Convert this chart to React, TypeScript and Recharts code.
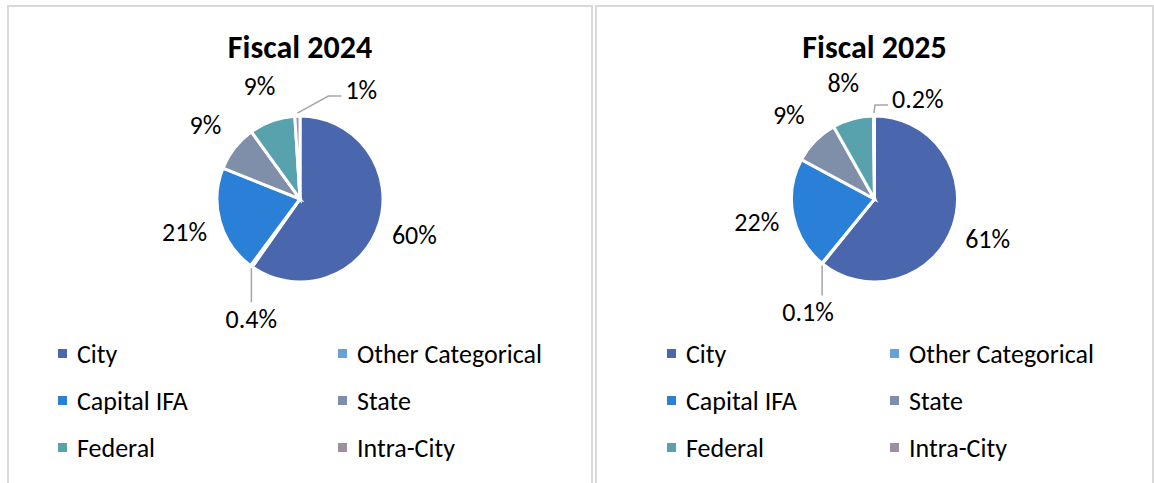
import { PieChart, Pie, Cell, Legend } from "recharts"

const categories = ["City", "Other Categorical", "Capital IFA", "State", "Federal", "Intra-City"]
const fiscal2024 = [60, 0.4, 21, 9, 9, 1]
const fiscal2025 = [61, 0.1, 22, 9, 8, 0.2]
const colors = ["#4a66ac", "#64a2d8", "#2a7fd6", "#7f8ea9", "#58a2ad", "#9e8fa0"]

const FONT = "Carlito, Calibri, Lato, sans-serif"
const RAD = Math.PI / 180

type Callout = { upDx: number; upDy: number; downLen: number; downDx: number }

function makeLabel(values: number[], callout: Callout) {
  return (props: any) => {
    const { cx, cy, midAngle, outerRadius, index } = props
    const v = values[index]
    const text = `${v}%`
    const cos = Math.cos(-midAngle * RAD)
    const sin = Math.sin(-midAngle * RAD)
    const ex = cx + outerRadius * cos
    const ey = cy + outerRadius * sin
    const textStyle = { fontFamily: FONT, fontSize: 26, fill: "#000" }

    if (v >= 2) {
      const r = outerRadius + 37
      return (
        <text x={cx + r * cos} y={cy + r * sin} textAnchor="middle" dominantBaseline="central" style={textStyle}>
          {text}
        </text>
      )
    }
    // small slices get a leader line
    if (sin > 0) {
      const y1 = ey + 2
      const y2 = y1 + callout.downLen
      return (
        <g>
          <polyline points={`${ex},${y1} ${ex},${y2}`} stroke="#a6a6a6" strokeWidth={1.5} fill="none" />
          <text x={ex + callout.downDx} y={y2 + 17} textAnchor="middle" dominantBaseline="central" style={textStyle}>
            {text}
          </text>
        </g>
      )
    }
    const y1 = ey - 3
    const x2 = ex + callout.upDx
    const y2 = y1 - callout.upDy
    const x3 = x2 + 13
    return (
      <g>
        <polyline points={`${ex},${y1} ${x2},${y2} ${x3},${y2}`} stroke="#a6a6a6" strokeWidth={1.5} fill="none" />
        <text x={x3 + 4} y={y2 - 6} textAnchor="start" dominantBaseline="central" style={textStyle}>
          {text}
        </text>
      </g>
    )
  }
}

function TwoColLegend({ payload, colWidth }: any) {
  // keep the slice order (row by row), not alphabetical
  const items = [...((payload || []) as any[])].sort(
    (a, b) => categories.indexOf(a.value) - categories.indexOf(b.value)
  )
  return (
    <div style={{ display: "grid", gridTemplateColumns: `${colWidth}px ${colWidth}px`, gridAutoRows: "47px" }}>
      {items.map((it) => (
        <div key={it.value} style={{ display: "flex", alignItems: "center" }}>
          <span style={{ width: 9, height: 9, background: it.color, marginRight: 10, flex: "none" }} />
          <span style={{ fontFamily: FONT, fontSize: 26, color: "#000", whiteSpace: "nowrap" }}>{it.value}</span>
        </div>
      ))}
    </div>
  )
}

function FiscalPanel({ title, values, left, width, legendLeft, colWidth, callout }: any) {
  const data = categories.map((name, i) => ({ name, value: values[i] }))
  const inner = width - 4
  return (
    <div
      style={{
        position: "absolute",
        left,
        top: 5,
        width: inner,
        height: 490,
        borderTop: "2px solid #d9d9d9",
        borderLeft: "2px solid #d9d9d9",
        borderRight: "2px solid #d9d9d9",
      }}
    >
      <div
        style={{
          position: "absolute",
          left: 0,
          right: 0,
          top: 21,
          textAlign: "center",
          fontFamily: FONT,
          fontWeight: 700,
          fontSize: 32,
          color: "#000",
          zIndex: 1,
        }}
      >
        {title}
      </div>
      <PieChart width={inner} height={476} margin={{ top: 0, right: 0, bottom: 0, left: 0 }}>
        <Pie
          data={data}
          dataKey="value"
          nameKey="name"
          cx={inner / 2}
          cy={192}
          outerRadius={83}
          startAngle={90}
          endAngle={-270}
          stroke="#fff"
          strokeWidth={3}
          labelLine={false}
          label={makeLabel(values, callout)}
          isAnimationActive={false}
        >
          {data.map((d, i) => (
            <Cell key={d.name} fill={colors[i]} />
          ))}
        </Pie>
        <Legend
          content={(p: any) => <TwoColLegend payload={p.payload} colWidth={colWidth} />}
          wrapperStyle={{ left: legendLeft, top: 323, bottom: "auto", width: colWidth * 2 }}
        />
      </PieChart>
    </div>
  )
}

export default function App() {
  return (
    <div style={{ position: "fixed", left: 0, top: 0, width: 1154, height: 483, background: "#fff", overflow: "hidden" }}>
      <FiscalPanel
        title="Fiscal 2024"
        values={fiscal2024}
        left={7}
        width={586}
        legendLeft={49}
        colWidth={280}
        callout={{ upDx: 31, upDy: 17, downLen: 34, downDx: 0 }}
      />
      <FiscalPanel
        title="Fiscal 2025"
        values={fiscal2025}
        left={595}
        width={559}
        legendLeft={70}
        colWidth={223}
        callout={{ upDx: 1, upDy: 8, downLen: 30, downDx: -14 }}
      />
    </div>
  )
}
